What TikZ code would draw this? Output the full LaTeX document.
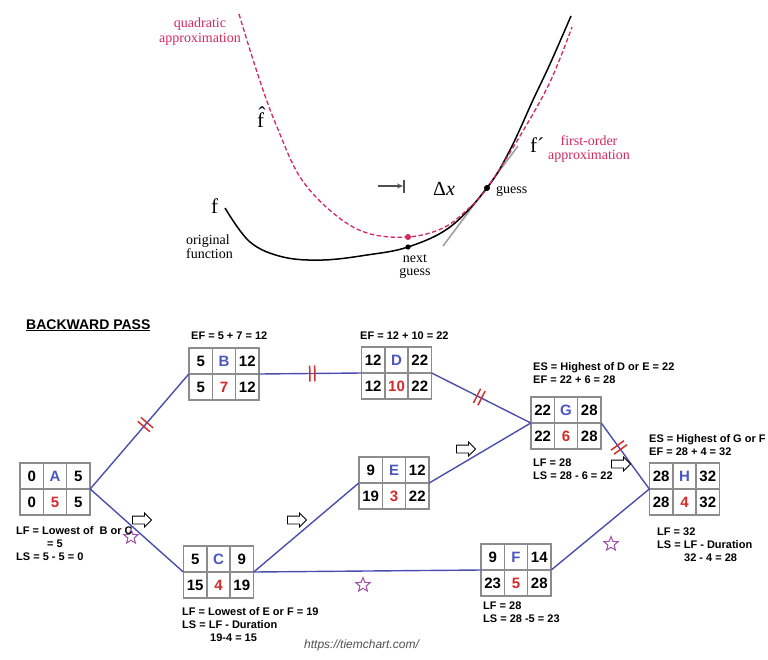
\documentclass[tikz,border=0pt]{standalone}
\usepackage{fontspec}
\setmainfont{Liberation Serif}
\setsansfont{Liberation Sans}
\usetikzlibrary{arrows.meta, shapes.geometric, shapes.arrows}
\definecolor{cedge}{HTML}{4A4FAF}
\definecolor{cgrid}{HTML}{8C8C8C}
\definecolor{cletter}{HTML}{4B58C0}
\definecolor{cdur}{HTML}{D42A2A}
\definecolor{cbreak}{HTML}{D0302F}
\definecolor{cstar}{HTML}{A150A8}
\definecolor{cquad}{HTML}{D4285F}
\definecolor{ctan}{HTML}{A0A0A0}
\definecolor{cdark}{HTML}{505050}
\tikzset{
  cell/.style={draw=cgrid, line width=1.5pt, minimum width=23.3pt, minimum height=26pt, inner sep=0pt,
    font=\sffamily\bfseries\fontsize{15}{15}\selectfont},
  actframe/.style={minimum width=70pt, minimum height=52pt, inner sep=0pt},
  link/.style={draw=cedge, line width=1.4pt},
  brk/.style={sloped, inner sep=0pt, text=cbreak},
  hint/.style={single arrow, draw=black, fill=white, line width=0.9pt, minimum height=19pt,
    inner xsep=0pt, inner ysep=3.5pt, single arrow head extend=3pt},
  starmark/.style={star, star points=5, star point ratio=2.3, draw=cstar, line width=1pt, minimum size=15pt, inner sep=0pt},
  note/.style={font=\sffamily\bfseries\fontsize{11}{13}\selectfont, align=left, anchor=base west, inner sep=0pt},
  serif/.style={font=\fontsize{14}{12.5}\selectfont, inner sep=0pt},
  big/.style={font=\fontsize{21}{21}\selectfont, inner sep=0pt, anchor=base west},
}
\newcommand\brkbars{\rule[-8pt]{1.5pt}{16pt}\hspace{3.5pt}\rule[-8pt]{1.5pt}{16pt}}
% activity box: name, x, y, ES, letter, EF, LS, duration, LF
\newcommand\actbox[9]{%
  \node[actframe] (#1) at (#2,#3) {};
  \node[cell] (#1-es) at ([shift={(-23.3,-13)}]#1.center) {#4};
  \node[cell, text=cletter] (#1-id) at ([shift={(0,-13)}]#1.center) {#5};
  \node[cell] (#1-ef) at ([shift={(23.3,-13)}]#1.center) {#6};
  \node[cell] (#1-ls) at ([shift={(-23.3,13)}]#1.center) {#7};
  \node[cell, text=cdur] (#1-du) at ([shift={(0,13)}]#1.center) {#8};
  \node[cell] (#1-lf) at ([shift={(23.3,13)}]#1.center) {#9};
}

\begin{document}
\begin{tikzpicture}[x=1pt, y=-1pt]
  \fill[white] (0,0) rectangle (768,659);
  \useasboundingbox (0,0) rectangle (768,659);

  % --- upper sketch: function and its approximations
  \draw[ctan, line width=1.6pt] (443,246) -- (518,146);
  \draw[black, line width=1.5pt] plot[smooth, tension=0.6] coordinates {(225,208) (250,242) (283,257) (323,260)
    (367,255) (408,247) (450,227) (487,188) (510,150) (533,100) (550,64) (571,16)};
  \draw[cquad, line width=1.3pt, dash pattern=on 4.5pt off 2.5pt] plot[smooth, tension=0.6] coordinates {(239,14) (250,50)
    (263,90) (277,127) (300,177) (333,213) (367,233) (408,237) (443,228) (468,209) (487,188) (520,136) (550,82) (572,27)};
  \fill[cquad] (408,237) circle (3pt);
  \fill[black] (408,247) circle (2.6pt);
  \fill[black] (487,188) circle (3pt);
  \draw[cdark, line width=1.2pt, -{Stealth[length=6pt, width=5pt]}] (378,186) -- (403,186);
  \draw[cdark, line width=1.2pt] (404,180) -- (404,193);

  % multi-line nodes sit on the baseline of their last line
  \node[serif, font=\fontsize{14}{15}\selectfont, text=cquad, align=center, anchor=base] (quad) at (200,42) {quadratic\\approximation};
  \node[serif, font=\fontsize{14}{14}\selectfont, text=cquad, align=center, anchor=base] (first) at (589,159) {first-order\\approximation};
  \node[big] (fhat) at (257,127) {\^{f}};
  \node[big] (fname) at (211,213) {f};
  \node[big] (fprime) at (530,152) {f´};
  \node[big, font=\fontsize{20}{20}\selectfont] (dx) at (433,195) {Δ\textit{x}};
  \node[serif, anchor=base west] (guess) at (496,193) {guess};
  \node[serif, align=center, anchor=base] (next) at (415,275) {next\\guess};
  \node[serif, align=left, anchor=base west] (orig) at (186,258) {original\\function};

  % --- lower network: backward pass
  \node[note, font=\sffamily\bfseries\fontsize{14}{14}\selectfont] (title) at (26,329) {\underline{BACKWARD PASS}};

  \actbox{A}{55}{489}{0}{A}{5}{0}{5}{5}
  \actbox{B}{224}{374}{5}{B}{12}{5}{7}{12}
  \actbox{C}{218.5}{572}{5}{C}{9}{15}{4}{19}
  \actbox{D}{396.5}{373}{12}{D}{22}{12}{10}{22}
  \actbox{E}{394}{483}{9}{E}{12}{19}{3}{22}
  \actbox{F}{516}{570}{9}{F}{14}{23}{5}{28}
  \actbox{G}{566}{423}{22}{G}{28}{22}{6}{28}
  \actbox{H}{684.5}{489}{28}{H}{32}{28}{4}{32}

  \draw[link] (A.east) -- (B.west) node[brk, pos=.56] (ab) {\brkbars};
  \draw[link] (A.east) -- (C.west);
  \draw[link] (B.east) -- (D.west) node[brk, pos=.52] (bd) {\brkbars};
  \draw[link] (D.east) -- (G.west) node[brk, pos=.48] (dg) {\brkbars};
  \draw[link] (C.east) -- (E.west);
  \draw[link] (C.east) -- (F.west);
  \draw[link] (E.east) -- (G.west);
  \draw[link] (F.east) -- (H.west);
  \draw[link] (G.east) -- (H.west) node[brk, pos=.37] (gh) {\brkbars};

  \node[hint] (h1) at (140,520) {};
  \node[hint] (h2) at (295,520) {};
  \node[hint] (h3) at (464,449) {};
  \node[hint] (h4) at (619,464) {};
  \node[starmark] (s1) at (131,537) {};
  \node[starmark] (s2) at (363,585) {};
  \node[starmark] (s3) at (611,544) {};

  \node[note] (efB) at (191,339) {EF = 5 + 7 = 12};
  \node[note] (efD) at (360,339) {EF = 12 + 10 = 22};
  \node[note] (esG) at (533,383) {ES = Highest of D or E = 22\\EF = 22 + 6 = 28};
  \node[note] (lfG) at (533,479) {LF = 28\\LS = 28 - 6 = 22};
  \node[note] (esH) at (649,455) {ES = Highest of G or F\\EF = 28 + 4 = 32};
  \node[note] (lfH) at (657,561) {LF = 32\\LS = LF - Duration\\\hspace*{27pt}32 - 4 = 28};
  \node[note] (lfA) at (16,560) {LF = Lowest of\ \ B or C\\\hspace*{31pt}= 5\\LS = 5 - 5 = 0};
  \node[note] (lfC) at (182,641) {LF = Lowest of E or F = 19\\LS = LF - Duration\\\hspace*{28pt}19-4 = 15};
  \node[note] (lfF) at (483,622) {LF = 28\\LS = 28 -5 = 23};
  \node[note, font=\sffamily\itshape\fontsize{12}{12}\selectfont, text=cdark] (url) at (304,648) {https://tiemchart.com/};
\end{tikzpicture}
\end{document}
